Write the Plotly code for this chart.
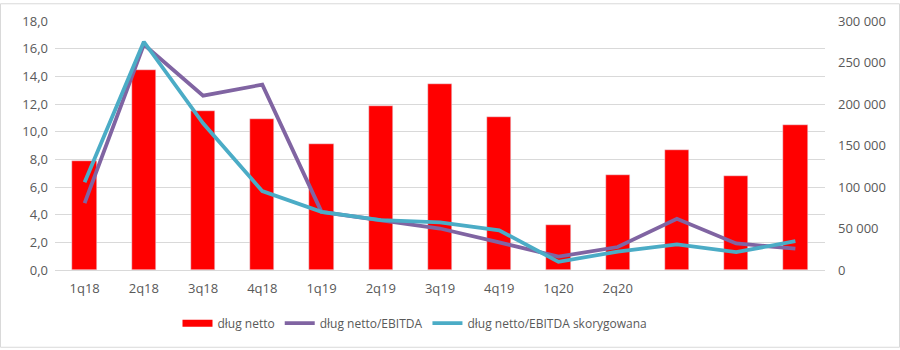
import plotly.graph_objects as go

categories = ["1q18", "2q18", "3q18", "4q18", "1q19", "2q19", "3q19", "4q19",
              "1q20", "2q20", "", "", ""]
dlug_netto = [131600, 240700, 192100, 181400, 151800, 198000, 224100, 183800,
              54500, 115000, 144700, 113800, 174300]
dlug_ebitda = [4.84, 16.3, 12.6, 13.4, 4.2, 3.6, 3.0, 2.0, 0.97, 1.66, 3.7, 1.92, 1.54]
dlug_ebitda_skor = [6.35, 16.5, 10.6, 5.7, 4.2, 3.6, 3.44, 2.87, 0.59, 1.33, 1.85, 1.3, 2.08]
left_ticks = [0, 2, 4, 6, 8, 10, 12, 14, 16, 18]
right_ticks = [0, 50000, 100000, 150000, 200000, 250000, 300000]

x = list(range(len(categories)))
W, H = 900, 350
ml, mr, mt, mb = 55, 75, 18, 79
pw, ph = W - ml - mr, H - mt - mb

fig = go.Figure()
fig.add_trace(go.Bar(x=x, y=dlug_netto, name="dług netto", marker_color="#FF0000",
                     width=0.41, yaxis="y", showlegend=False))
fig.add_trace(go.Scatter(x=[None], y=[None], name="dług netto", mode="lines",
                         line=dict(color="#FF0000", width=7), yaxis="y2"))
fig.add_trace(go.Scatter(x=x, y=dlug_ebitda, name="dług netto/EBITDA", mode="lines",
                         line=dict(color="#8064A2", width=3.8), yaxis="y2"))
fig.add_trace(go.Scatter(x=x, y=dlug_ebitda_skor, name="dług netto/EBITDA skorygowana",
                         mode="lines", line=dict(color="#4BACC6", width=3.8), yaxis="y2"))

font = dict(family="Open Sans", size=13, color="#595959")
lfont = dict(family="Open Sans", size=12, color="#595959")
fig.update_layout(
    width=W, height=H, margin=dict(l=ml, r=mr, t=mt, b=mb),
    paper_bgcolor="white", plot_bgcolor="white",
    separators=", ", font=font, bargap=0,
    xaxis=dict(tickmode="array", tickvals=x, ticktext=categories,
               range=[-0.5, len(categories) - 0.5], showgrid=False,
               showline=True, linecolor="#D9D9D9", ticks="", tickfont=font,
               ticklabelstandoff=6),
    yaxis=dict(side="right", range=[0, 300000], tickvals=right_ticks,
               tickformat=",d", showgrid=False, zeroline=False, ticks="",
               tickfont=font, ticklabelstandoff=12),
    yaxis2=dict(side="left", overlaying="y", range=[0, 18], tickvals=left_ticks,
                tickformat=".1f", showgrid=True, gridcolor="#D9D9D9", gridwidth=1,
                zeroline=False, ticks="", tickfont=font, ticklabelstandoff=6),
    legend=dict(orientation="h", x=0.5 - 25 / pw, xanchor="center",
                y=-(325 - 271) / ph, yanchor="middle", font=lfont,
                itemwidth=30, traceorder="normal"),
    shapes=[dict(type="rect", xref="paper", yref="paper",
                 x0=(0.5 - ml) / pw, x1=(W - 0.5 - ml) / pw,
                 y0=-(H - 0.5 - mt - ph) / ph, y1=1 + (mt - 0.5) / ph,
                 line=dict(color="#D9D9D9", width=1), layer="below")],
)
fig.write_html("out.html")
